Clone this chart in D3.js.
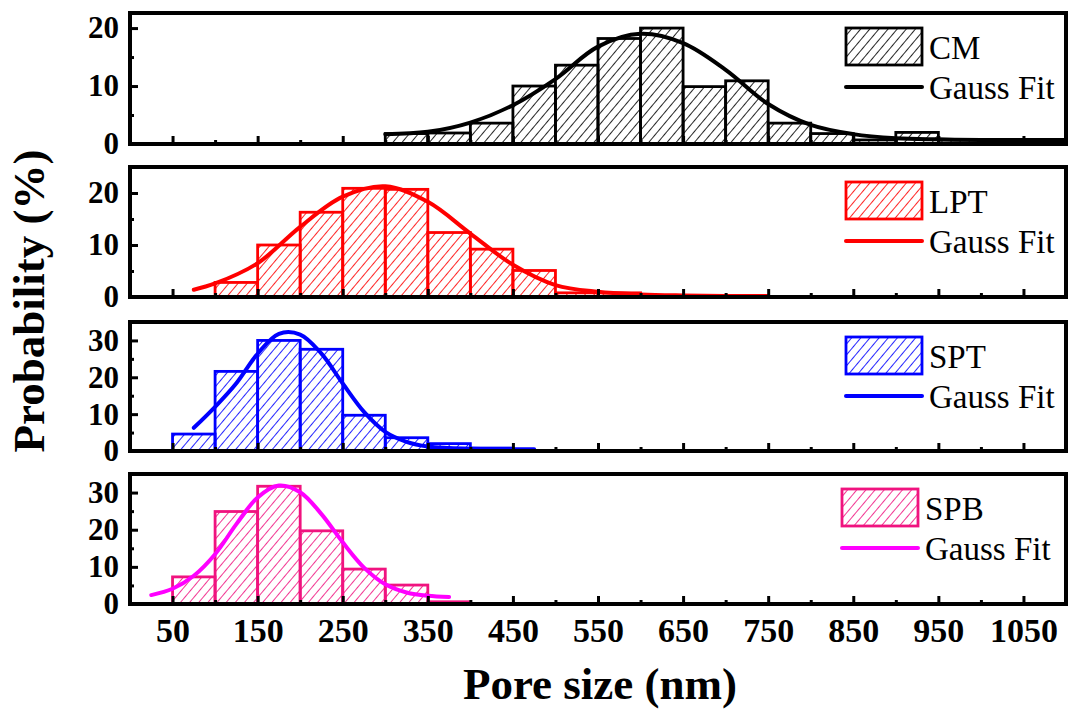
<!DOCTYPE html>
<html>
<head>
<meta charset="utf-8">
<script src="https://cdn.jsdelivr.net/npm/d3@7"></script>
<style>
  body { margin: 0; background: #fff; }
  svg { display: block; font-family: 'Liberation Serif', 'Times New Roman', serif; }
</style>
</head>
<body>
<svg width="1069" height="718"></svg>
<script>
// shared x ticks (nm)
const xMajor = [50, 150, 250, 350, 450, 550, 650, 750, 850, 950, 1050];
const xMinor = [100, 200, 300, 400, 500, 600, 700, 800, 900, 1000];
const binWidth = 50;

// CM histogram + gauss fit
const cmBins = [300, 350, 400, 450, 500, 550, 600, 650, 700, 750, 800, 850, 900, 950, 1000, 1050];
const cmValues = [1.8, 1.9, 3.6, 10.0, 13.6, 18.2, 20.0, 9.9, 10.9, 3.6, 1.8, 0.7, 2.0, 0.7, 0.7, 0.7];
const cmFitX = [300, 350, 400, 450, 500, 550, 600, 650, 700, 750, 800, 850, 900, 950, 1000, 1050, 1100];
const cmFitY = [1.7, 2.1, 3.7, 6.7, 11.2, 16.8, 19.0, 17.4, 12.8, 6.9, 3.3, 1.7, 1.0, 0.8, 0.7, 0.7, 0.7];

// LPT
const lptBins = [100, 150, 200, 250, 300, 350, 400, 450, 500, 550, 600, 650, 700];
const lptValues = [2.8, 10.0, 16.3, 20.9, 20.7, 12.4, 9.2, 5.1, 0.8, 0.8, 0.3, 0.3, 0.3];
const lptFitX = [75, 100, 150, 200, 250, 300, 350, 400, 450, 500, 550, 600, 650, 700, 750];
const lptFitY = [1.4, 2.6, 6.5, 13.5, 19.3, 21.3, 18.3, 12.2, 6.2, 2.3, 1.0, 0.5, 0.3, 0.2, 0.2];

// SPT
const sptBins = [50, 100, 150, 200, 250, 300, 350, 400];
const sptValues = [4.6, 21.6, 30.0, 27.6, 9.7, 3.6, 2.0, 0.8];
const sptFitX = [75, 100, 125, 150, 175, 200, 225, 250, 275, 300, 325, 350, 375, 400, 425, 450, 475];
const sptFitY = [6.3, 12.0, 18.4, 26.4, 31.8, 31.6, 26.4, 18.3, 10.6, 5.2, 2.5, 1.2, 0.8, 0.6, 0.5, 0.5, 0.5];

// SPB
const spbBins = [0, 50, 100, 150, 200, 250, 300, 350];
const spbValues = [0, 7.3, 24.9, 31.7, 19.7, 9.4, 5.1, 0.6];
const spbFitX = [25, 50, 75, 100, 125, 150, 175, 200, 225, 250, 275, 300, 325, 350, 375];
const spbFitY = [2.4, 4.1, 7.6, 13.4, 21.5, 28.7, 31.9, 30.1, 24.2, 16.6, 9.8, 5.3, 3.1, 2.2, 1.9];

const panels = [
  { name: 'CM', color: '#000000', fit: '#000000', bins: cmBins, values: cmValues, fitX: cmFitX, fitY: cmFitY,
    yMax: 22.6, yMajor: [0, 10, 20], yMinor: [5, 15], top: 13, bottom: 144, dx: 0 },
  { name: 'LPT', color: '#ff0000', fit: '#ff0000', bins: lptBins, values: lptValues, fitX: lptFitX, fitY: lptFitY,
    yMax: 25, yMajor: [0, 10, 20], yMinor: [5, 15], top: 167, bottom: 297, dx: 0 },
  { name: 'SPT', color: '#0000ff', fit: '#0000ff', bins: sptBins, values: sptValues, fitX: sptFitX, fitY: sptFitY,
    yMax: 35, yMajor: [0, 10, 20, 30], yMinor: [5, 15, 25], top: 322, bottom: 451, dx: 0 },
  { name: 'SPB', color: '#f0137f', fit: '#ff00ff', bins: spbBins, values: spbValues, fitX: spbFitX, fitY: spbFitY,
    yMax: 35, yMajor: [0, 10, 20, 30], yMinor: [5, 15, 25], top: 474, bottom: 604, dx: -4 }
];

const svg = d3.select('svg');
svg.append('rect').attr('width', 1069).attr('height', 718).attr('fill', '#fff');

const x = d3.scaleLinear().domain([0, 1100]).range([130, 1066]);

// hatch patterns, one per colour
const defs = svg.append('defs');
panels.forEach((p) => {
  const pat = defs.append('pattern')
    .attr('id', 'hatch-' + p.name)
    .attr('patternUnits', 'userSpaceOnUse')
    .attr('width', 7)
    .attr('height', 7)
    .attr('patternTransform', 'rotate(40)');
  pat.append('line')
    .attr('x1', 0).attr('y1', 0).attr('x2', 0).attr('y2', 7)
    .attr('stroke', p.color)
    .attr('stroke-width', 1.7);
});

panels.forEach((p, i) => {
  const y = d3.scaleLinear().domain([0, p.yMax]).range([p.bottom, p.top]);
  const g = svg.append('g');

  // bars
  const data = p.bins.map((b, k) => ({ start: b, value: p.values[k] }));
  g.selectAll('rect.bar')
    .data(data)
    .enter()
    .append('rect')
    .attr('class', 'bar')
    .attr('x', (d) => x(d.start))
    .attr('width', (d) => x(d.start + binWidth) - x(d.start))
    .attr('y', (d) => y(d.value))
    .attr('height', (d) => y(0) - y(d.value))
    .attr('fill', 'url(#hatch-' + p.name + ')')
    .attr('stroke', p.color)
    .attr('stroke-width', 2.8);

  // gauss fit
  const line = d3.line()
    .x((d) => x(d[0]))
    .y((d) => y(d[1]))
    .curve(d3.curveCatmullRom.alpha(0.5));
  g.append('path')
    .datum(p.fitX.map((v, k) => [v, p.fitY[k]]))
    .attr('d', line)
    .attr('fill', 'none')
    .attr('stroke', p.fit)
    .attr('stroke-width', 4)
    .attr('stroke-linecap', 'round');

  // x axis (ticks pointing in)
  const xAxis = d3.axisBottom(x).tickValues(xMajor).tickSizeInner(-8).tickSizeOuter(0).tickFormat(d3.format('d'));
  if (i < panels.length - 1) xAxis.tickFormat('');
  const xa = g.append('g').attr('transform', `translate(0,${p.bottom})`).call(xAxis);
  xa.select('.domain').remove();
  xa.selectAll('.tick line').attr('stroke', '#000').attr('stroke-width', 3);
  xa.selectAll('.tick text')
    .attr('y', 38).attr('dy', 0)
    .attr('font-size', 34).attr('font-weight', 'bold')
    .attr('font-family', "'Liberation Serif', 'Times New Roman', serif")
    .attr('fill', '#000');
  const xm = g.append('g').attr('transform', `translate(0,${p.bottom})`)
    .call(d3.axisBottom(x).tickValues(xMinor).tickSizeInner(-4).tickSizeOuter(0).tickFormat(''));
  xm.select('.domain').remove();
  xm.selectAll('.tick line').attr('stroke', '#000').attr('stroke-width', 3);

  // y axis
  const ya = g.append('g').attr('transform', 'translate(130,0)')
    .call(d3.axisLeft(y).tickValues(p.yMajor).tickSizeInner(-8).tickSizeOuter(0).tickPadding(11));
  ya.select('.domain').remove();
  ya.selectAll('.tick line').attr('stroke', '#000').attr('stroke-width', 3);
  ya.selectAll('.tick text')
    .attr('font-size', 31).attr('font-weight', 'bold')
    .attr('font-family', "'Liberation Serif', 'Times New Roman', serif")
    .attr('fill', '#000');
  const ym = g.append('g').attr('transform', 'translate(130,0)')
    .call(d3.axisLeft(y).tickValues(p.yMinor).tickSizeInner(-4).tickSizeOuter(0).tickFormat(''));
  ym.select('.domain').remove();
  ym.selectAll('.tick line').attr('stroke', '#000').attr('stroke-width', 3);

  // frame
  g.append('rect')
    .attr('x', x(0)).attr('y', p.top)
    .attr('width', x(1100) - x(0)).attr('height', p.bottom - p.top)
    .attr('fill', 'none').attr('stroke', '#000').attr('stroke-width', 4);

  // legend
  const lg = g.append('g').attr('transform', `translate(${846 + p.dx},${p.top})`);
  lg.append('rect')
    .attr('x', 0).attr('y', 15).attr('width', 76).attr('height', 37)
    .attr('fill', 'url(#hatch-' + p.name + ')')
    .attr('stroke', p.color).attr('stroke-width', 2.8);
  lg.append('line')
    .attr('x1', 0).attr('x2', 76).attr('y1', 74).attr('y2', 74)
    .attr('stroke', p.fit).attr('stroke-width', 4).attr('stroke-linecap', 'round');
  lg.append('text').attr('x', 83).attr('y', 46).attr('font-size', 33).text(p.name);
  lg.append('text').attr('x', 83).attr('y', 86).attr('font-size', 33).text('Gauss Fit');
});

// axis titles
svg.append('text')
  .attr('x', 600).attr('y', 699)
  .attr('text-anchor', 'middle')
  .attr('font-size', 45).attr('font-weight', 'bold')
  .text('Pore size (nm)');

svg.append('text')
  .attr('transform', 'translate(44,301) rotate(-90)')
  .attr('text-anchor', 'middle')
  .attr('font-size', 45).attr('font-weight', 'bold')
  .text('Probability (%)');
</script>
</body>
</html>
